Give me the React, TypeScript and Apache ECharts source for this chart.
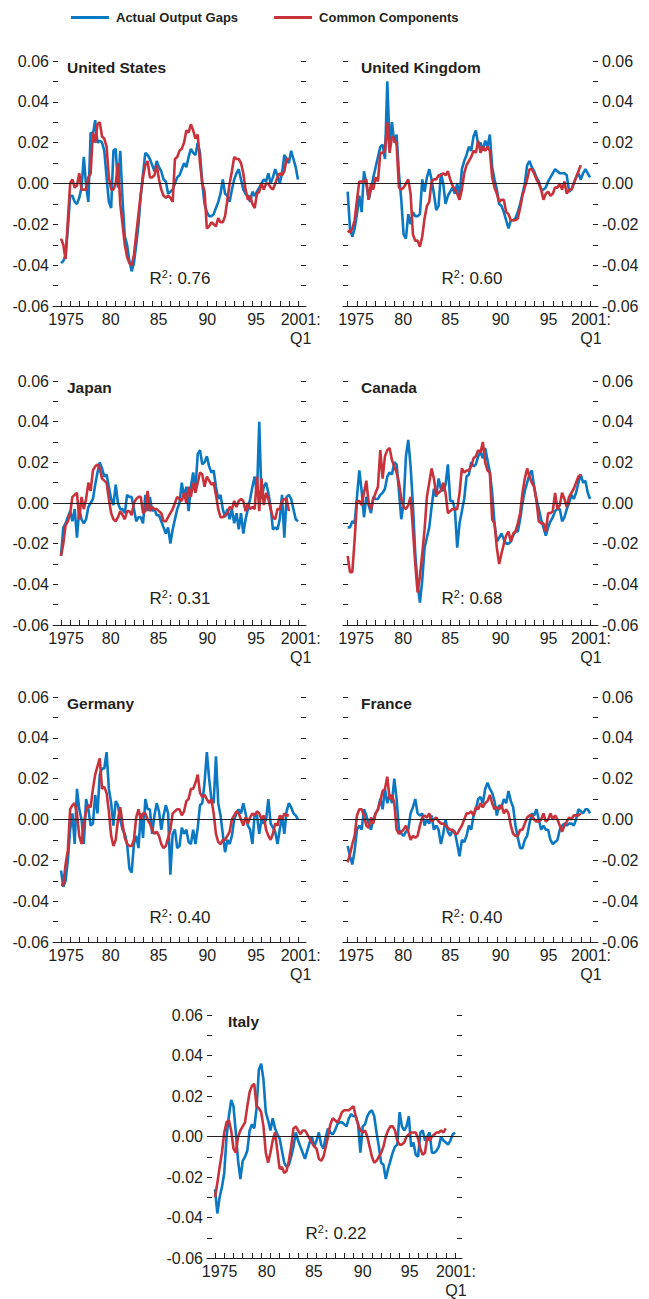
import React, { useEffect, useRef } from "react";
import * as echarts from "echarts";

// ---------- data (quarterly, 1975:Q1 onward) ----------
const FIRST_YEAR = 1975;
const seriesNames = ["Actual Output Gaps", "Common Components"];
const yearTicks = [
  1975, 1976, 1977, 1978, 1979, 1980, 1981, 1982, 1983, 1984, 1985, 1986, 1987, 1988,
  1989, 1990, 1991, 1992, 1993, 1994, 1995, 1996, 1997, 1998, 1999, 2000, 2001,
];
const xLabelTexts = ["1975", "80", "85", "90", "95", "2001:\nQ1"];
const countryNames = ["United States", "United Kingdom", "Japan", "Canada", "Germany", "France", "Italy"];
const r2Texts = ["0.76", "0.60", "0.31", "0.68", "0.40", "0.40", "0.22"];

const usActual = [-0.039,-0.038,-0.035,-0.022,-0.006,-0.006,-0.009,-0.010,-0.007,-0.002,
0.013,-0.001,-0.009,0.025,0.024,0.031,0.020,0.021,0.020,0.016,
0.003,-0.009,-0.012,0.016,0.017,-0.002,0.016,-0.008,-0.026,-0.030,
-0.038,-0.043,-0.039,-0.030,-0.020,-0.006,0.005,0.015,0.014,0.012,
0.009,0.006,0.011,0.008,0.006,0.002,0.001,-0.005,-0.004,-0.003,
0.000,0.003,0.004,0.007,0.010,0.008,0.013,0.017,0.015,0.014,
0.020,0.015,0.000,-0.010,-0.014,-0.016,-0.016,-0.015,-0.012,-0.009,
-0.005,0.002,-0.005,-0.006,-0.009,-0.003,0.002,0.005,0.007,0.002,
-0.003,-0.005,-0.006,-0.009,-0.004,-0.006,-0.004,-0.002,0.000,0.002,
0.001,0.005,0.000,0.003,0.007,0.004,0.000,0.005,0.014,0.012,
0.010,0.016,0.012,0.008,0.002];
const usCommon = [-0.027,-0.030,-0.037,-0.018,0.000,0.002,-0.002,-0.001,0.005,-0.003,
-0.003,-0.003,0.003,0.005,0.025,0.020,0.029,0.030,0.023,0.022,
0.018,0.003,-0.003,-0.003,0.000,0.010,-0.010,-0.020,-0.030,-0.036,
-0.039,-0.040,-0.035,-0.025,-0.015,-0.005,0.003,0.009,0.011,0.003,
0.003,0.004,0.009,0.002,-0.003,-0.006,-0.007,-0.006,-0.007,-0.009,
0.012,0.013,0.016,0.017,0.020,0.026,0.025,0.029,0.026,0.022,
0.024,0.010,0.000,-0.004,-0.022,-0.021,-0.019,-0.020,-0.021,-0.017,
-0.019,-0.019,-0.016,-0.008,0.000,0.006,0.013,0.012,0.012,0.010,
0.005,-0.003,-0.008,-0.006,-0.010,-0.012,-0.005,-0.004,0.000,-0.003,
0.000,0.000,-0.002,-0.003,0.000,0.003,0.005,0.004,0.006,0.012,
0.012];

const ukActual = [-0.004,-0.022,-0.026,-0.022,-0.015,-0.006,-0.014,0.006,0.000,-0.008,
-0.003,0.003,0.008,0.013,0.018,0.019,0.012,0.050,0.019,0.030,
0.020,0.024,0.005,-0.008,-0.025,-0.027,-0.015,-0.020,-0.014,-0.016,
-0.016,-0.015,0.002,-0.004,0.003,0.007,0.002,-0.005,-0.013,-0.011,
0.005,0.000,-0.010,-0.006,-0.004,-0.002,-0.005,0.000,-0.007,0.007,
0.011,0.014,0.018,0.016,0.023,0.026,0.019,0.020,0.016,0.021,
0.018,0.024,0.008,0.002,-0.003,-0.010,-0.011,-0.014,-0.018,-0.022,
-0.018,-0.018,-0.017,-0.014,-0.010,-0.005,0.000,0.009,0.011,0.008,
0.006,0.003,0.001,-0.003,-0.003,-0.002,0.001,0.003,0.005,0.007,
0.006,0.005,0.005,0.005,0.004,-0.004,-0.003,0.000,0.003,0.005,
0.002,0.005,0.007,0.005,0.003];
const ukCommon = [-0.023,-0.024,-0.022,-0.018,-0.008,0.001,0.001,0.001,0.002,-0.008,
0.000,-0.003,0.003,0.001,0.015,0.015,0.016,0.030,0.015,0.023,
0.022,0.019,-0.002,-0.003,-0.002,0.000,0.002,-0.005,-0.025,-0.028,
-0.028,-0.031,-0.026,-0.017,-0.011,-0.009,0.001,0.002,0.002,0.004,
0.004,0.005,0.004,0.006,0.002,-0.001,-0.003,-0.005,-0.008,-0.003,
0.005,0.009,0.011,0.013,0.016,0.015,0.021,0.015,0.018,0.016,
0.018,0.016,0.003,-0.002,-0.005,-0.009,-0.008,-0.008,-0.014,-0.015,
-0.018,-0.018,-0.018,-0.017,-0.012,-0.006,-0.002,0.002,0.007,0.007,
0.005,0.002,0.000,-0.003,-0.008,-0.005,-0.004,-0.006,-0.005,-0.002,
-0.002,0.000,-0.003,0.001,-0.005,-0.003,-0.003,0.000,0.003,0.006,
0.009];

const jpActual = [-0.026,-0.012,-0.010,-0.007,-0.004,-0.009,-0.003,-0.017,-0.003,-0.008,
-0.010,-0.008,-0.002,0.000,0.002,0.009,0.015,0.020,0.017,0.013,
0.014,0.008,0.002,-0.001,0.009,0.000,-0.003,-0.003,-0.005,0.004,
0.003,0.003,-0.003,-0.009,-0.007,-0.007,-0.010,0.004,-0.004,0.003,
-0.004,-0.003,-0.006,-0.006,-0.009,-0.012,-0.015,-0.012,-0.020,-0.013,
-0.008,-0.003,0.000,0.010,0.003,0.008,-0.004,0.008,0.015,0.007,
0.024,0.026,0.019,0.020,0.023,0.018,0.015,0.016,0.008,0.002,
0.004,-0.003,-0.007,-0.003,-0.008,-0.003,-0.010,-0.005,-0.013,-0.005,
-0.015,-0.008,-0.003,0.002,0.008,0.013,0.004,0.040,0.002,0.008,
0.010,0.005,-0.002,-0.013,-0.012,-0.013,-0.008,0.004,-0.017,0.003,
0.004,0.002,-0.003,-0.008,-0.009];
const jpCommon = [-0.026,-0.020,-0.011,-0.009,-0.005,0.003,0.004,0.005,-0.008,0.003,
-0.003,0.002,0.010,0.006,0.016,0.018,0.019,0.017,0.012,0.011,
0.010,0.002,-0.005,-0.008,-0.009,-0.007,-0.004,-0.006,-0.008,-0.004,
-0.004,-0.006,0.000,0.002,0.003,0.003,-0.005,-0.004,0.006,-0.004,
-0.002,-0.003,-0.003,-0.004,-0.005,-0.009,-0.009,-0.007,-0.005,-0.003,
0.000,0.003,0.002,0.001,0.005,0.000,0.008,0.003,0.010,0.005,
0.010,0.015,0.014,0.008,0.013,0.011,0.009,0.010,0.004,-0.003,
-0.007,-0.007,-0.006,-0.005,-0.002,-0.003,0.001,-0.002,0.001,0.002,
0.001,-0.004,0.000,-0.003,-0.002,-0.003,0.013,-0.004,0.012,-0.001,
0.005,0.002,-0.003,-0.007,-0.008,-0.003,-0.003,0.001,0.002,0.002,
-0.004];

const caActual = [-0.012,-0.012,-0.009,-0.010,0.003,0.016,0.006,-0.007,0.003,-0.001,
-0.005,0.003,0.002,0.002,0.004,0.005,0.007,0.013,0.015,0.014,
0.020,0.019,0.006,-0.008,0.000,0.023,0.031,0.018,-0.001,-0.025,
-0.040,-0.049,-0.038,-0.022,-0.017,-0.012,-0.002,0.007,0.003,0.012,
0.007,0.006,0.009,0.019,0.001,0.001,-0.003,-0.022,-0.010,-0.004,
0.002,0.013,0.014,0.020,0.018,0.019,0.023,0.025,0.022,0.027,
0.021,0.015,0.005,-0.010,-0.019,-0.017,-0.015,-0.018,-0.020,-0.020,
-0.019,-0.016,-0.014,-0.014,-0.008,0.000,0.006,0.010,0.014,0.016,
0.008,0.002,-0.003,-0.008,-0.012,-0.016,-0.012,-0.009,-0.007,-0.004,
-0.003,-0.003,-0.009,-0.007,-0.003,0.000,0.004,0.002,0.005,0.010,
0.014,0.010,0.011,0.005,0.002];
const caCommon = [-0.026,-0.034,-0.034,-0.018,0.001,0.001,-0.001,0.005,0.011,0.000,
-0.003,0.002,0.005,0.008,0.026,0.012,0.023,0.026,0.027,0.021,
0.018,0.015,0.010,0.002,-0.002,-0.003,-0.001,0.003,-0.013,-0.030,
-0.044,-0.036,-0.025,-0.013,0.003,0.010,0.017,0.012,0.004,0.005,
0.006,0.010,0.005,-0.005,-0.004,-0.003,-0.003,-0.003,0.005,0.017,
0.015,0.016,0.016,0.018,0.022,0.023,0.026,0.025,0.030,0.020,
0.016,0.015,-0.008,-0.010,-0.022,-0.030,-0.025,-0.020,-0.016,-0.014,
-0.019,-0.015,-0.014,-0.010,-0.005,0.005,0.012,0.017,0.013,0.010,
0.008,0.001,-0.009,-0.010,-0.010,-0.014,-0.005,-0.005,-0.004,0.005,
-0.003,-0.001,0.005,0.002,-0.002,0.003,0.005,0.007,0.010,0.013,
0.014];

const deActual = [-0.025,-0.033,-0.030,-0.020,-0.005,0.003,-0.012,0.015,0.005,0.000,
-0.012,0.010,0.005,-0.003,-0.002,0.012,0.003,0.022,0.025,0.025,
0.033,0.015,0.008,-0.003,0.009,0.007,0.000,-0.005,-0.007,-0.012,
-0.024,-0.026,-0.012,-0.008,-0.014,0.003,-0.009,0.010,0.005,0.005,
-0.007,0.002,0.008,0.004,-0.005,0.002,0.007,0.003,-0.027,-0.007,
-0.005,-0.014,-0.013,-0.004,-0.007,-0.005,-0.011,-0.012,-0.005,-0.012,
-0.004,0.007,0.008,0.018,0.033,0.020,0.010,0.008,0.031,0.008,
0.002,-0.007,-0.016,-0.010,-0.012,-0.008,0.000,0.003,0.005,0.003,
0.008,0.003,-0.003,-0.005,-0.012,0.003,0.002,-0.007,0.000,-0.002,
0.000,0.010,-0.002,-0.004,-0.006,-0.012,-0.005,0.002,-0.007,0.004,
0.008,0.006,0.003,0.002,0.000];
const deCommon = [-0.032,-0.032,-0.022,-0.015,0.005,0.007,0.008,0.003,-0.008,-0.012,
-0.002,0.004,0.007,0.006,0.015,0.022,0.026,0.030,0.015,0.016,
0.013,0.004,-0.008,-0.013,-0.010,0.000,0.006,-0.002,-0.009,-0.012,
-0.013,-0.013,-0.010,0.001,0.005,0.000,0.003,0.003,0.000,-0.002,
-0.005,-0.007,-0.006,-0.008,-0.012,-0.014,-0.013,-0.009,-0.005,0.003,
0.004,0.005,0.005,0.002,0.004,0.009,0.010,0.015,0.015,0.018,
0.022,0.013,0.011,0.012,0.010,0.008,0.010,0.003,-0.007,-0.011,
-0.012,-0.010,-0.010,-0.008,-0.006,0.000,0.002,0.004,0.003,0.000,
-0.003,0.001,-0.002,0.001,0.003,0.002,0.004,0.003,0.000,0.002,
-0.005,-0.008,-0.010,-0.007,-0.002,-0.003,0.002,0.000,0.003,0.002,
0.002];

const frActual = [-0.013,-0.018,-0.022,-0.015,-0.005,-0.003,-0.005,0.005,0.002,-0.002,
-0.005,0.000,0.003,0.005,0.010,0.005,0.015,0.008,0.012,0.008,
0.020,0.010,-0.005,-0.007,-0.008,-0.006,-0.005,0.003,0.006,0.010,
0.003,0.002,0.003,-0.003,0.000,-0.002,0.002,-0.005,-0.003,-0.005,
-0.012,-0.007,0.000,-0.006,-0.008,-0.005,-0.006,-0.012,-0.018,-0.010,
-0.011,-0.008,-0.003,-0.005,0.002,0.005,0.010,0.011,0.008,0.015,
0.018,0.015,0.013,0.009,0.002,0.007,0.006,0.010,0.008,0.014,
0.009,0.006,-0.003,-0.009,-0.014,-0.014,-0.010,-0.008,-0.002,0.003,
0.002,0.005,0.000,-0.005,-0.003,-0.005,-0.005,-0.010,-0.012,-0.011,
-0.010,-0.005,-0.003,-0.002,-0.003,-0.002,-0.002,-0.003,0.000,0.005,
0.004,0.003,0.005,0.005,0.003];
const frCommon = [-0.021,-0.017,-0.012,-0.008,0.002,0.005,0.005,0.002,-0.003,-0.004,
0.001,-0.002,0.003,0.005,0.009,0.014,0.015,0.021,0.010,0.012,
0.008,-0.005,-0.007,-0.006,-0.005,-0.003,-0.006,-0.010,-0.008,-0.009,
-0.008,-0.003,0.001,0.002,0.001,0.003,-0.001,0.000,0.001,-0.001,
-0.002,-0.002,-0.003,-0.004,-0.005,-0.005,-0.007,-0.007,-0.005,-0.003,
0.000,0.003,0.003,0.004,0.002,0.006,0.005,0.008,0.006,0.008,
0.009,0.012,0.008,0.005,0.006,0.005,0.007,0.003,0.005,0.003,
-0.003,-0.007,-0.008,-0.008,-0.005,-0.005,-0.002,0.001,0.002,0.002,
0.000,-0.001,-0.001,0.000,0.003,-0.001,0.000,0.003,0.000,0.002,
0.000,-0.003,-0.006,-0.003,-0.001,0.001,0.000,0.002,0.002,0.002,
0.003];

const itActual = [-0.026,-0.038,-0.030,-0.025,-0.018,0.000,0.010,0.018,0.015,0.002,
-0.012,-0.021,-0.012,-0.010,-0.007,0.003,0.006,0.004,0.014,0.033,
0.036,0.028,0.012,0.008,0.003,0.009,0.004,0.001,-0.001,-0.007,
-0.013,-0.015,-0.014,-0.010,-0.005,0.002,-0.002,-0.005,-0.008,-0.011,
-0.007,-0.003,0.000,-0.005,-0.002,0.002,-0.004,-0.006,0.000,0.004,
0.002,0.001,0.003,0.006,0.007,0.007,0.006,0.005,0.009,0.011,
0.010,0.010,0.006,-0.008,0.005,0.006,0.010,0.012,0.013,0.010,
0.002,-0.005,-0.013,-0.014,-0.021,-0.016,-0.012,-0.008,-0.005,-0.004,
0.012,0.005,0.003,0.005,0.010,-0.005,-0.003,-0.009,-0.010,0.002,
0.003,-0.002,0.000,0.002,-0.008,-0.008,-0.007,-0.005,0.000,-0.002,
-0.003,-0.004,-0.002,0.001,0.002];
const itCommon = [-0.030,-0.023,-0.015,-0.008,0.002,0.007,0.008,0.003,-0.006,-0.008,
0.000,0.003,0.005,0.007,0.015,0.022,0.025,0.026,0.015,0.014,
0.012,0.005,-0.008,-0.013,-0.008,-0.002,0.002,-0.007,-0.016,-0.015,
-0.018,-0.017,-0.012,-0.005,0.004,0.005,0.003,0.001,0.003,0.003,
0.001,-0.001,-0.003,-0.005,-0.006,-0.011,-0.012,-0.010,-0.005,0.000,
0.006,0.009,0.008,0.007,0.009,0.012,0.013,0.013,0.013,0.014,
0.015,0.010,0.006,0.003,0.002,0.003,0.000,-0.005,-0.010,-0.013,
-0.012,-0.010,-0.008,-0.005,0.000,0.003,0.005,0.005,0.003,-0.002,
-0.004,-0.004,-0.003,0.000,0.001,0.002,0.002,0.002,-0.001,-0.006,
-0.009,-0.008,0.000,-0.002,0.000,0.001,0.002,0.002,0.003,0.002,
0.004];

const actualSeries = [usActual, ukActual, jpActual, caActual, deActual, frActual, itActual];
const commonSeries = [usCommon, ukCommon, jpCommon, caCommon, deCommon, frCommon, itCommon];

// ---------- layout ----------
const FONT = "'Liberation Sans', Arial, Helvetica, sans-serif";
const INK = "#231f20";
const BLUE = "#0a78c2";
const RED = "#c8323b";

type Col = {
  left: number; width: number; min: number; max: number;
  labelAt: number[]; side: "left" | "right"; titleX: number; r2X: number;
};
const columns: Record<string, Col> = {
  L: { left: 53, width: 253, min: 1974.12, max: 2001.88, labelAt: [1975.55, 1980.45, 1985.7, 1991.05, 1996.4, 2001.3], side: "left", titleX: 67, r2X: 180 },
  R: { left: 343, width: 255, min: 1974.5, max: 2001.85, labelAt: [1975.9, 1980.95, 1986.0, 1991.4, 1996.55, 2001.1], side: "right", titleX: 361, r2X: 472 },
  C: { left: 207, width: 255, min: 1974.13, max: 2001.76, labelAt: [1975.5, 1980.6, 1985.7, 1991.0, 1996.1, 2001.1], side: "left", titleX: 228, r2X: 336 },
};
const rows = [
  { top: 61, height: 245, titleY: 67, r2Y: 278 },
  { top: 381, height: 244, titleY: 387, r2Y: 598 },
  { top: 697, height: 245, titleY: 703, r2Y: 917 },
  { top: 1015, height: 243, titleY: 1021, r2Y: 1233 },
];
const panelPlacement = [
  { col: "L", row: 0 }, { col: "R", row: 0 },
  { col: "L", row: 1 }, { col: "R", row: 1 },
  { col: "L", row: 2 }, { col: "R", row: 2 },
  { col: "C", row: 3 },
];

const yLabel = (v: number) => {
  const k = Math.round(v * 100);
  return k % 2 === 0 ? (k / 100).toFixed(2) : "";
};

function buildOption() {
  const grid: any[] = [];
  const xAxis: any[] = [];
  const yAxis: any[] = [];
  const series: any[] = [];
  const title: any[] = [];
  const graphic: any[] = [];

  panelPlacement.forEach((pl, i) => {
    const col = columns[pl.col];
    const row = rows[pl.row];
    grid.push({ left: col.left, top: row.top, width: col.width, height: row.height, containLabel: false, outerBoundsMode: "none" });

    xAxis.push({
      type: "value", gridIndex: i, min: col.min, max: col.max,
      axisLine: { show: true, onZero: false, lineStyle: { color: INK, width: 1 } },
      axisTick: { show: true, inside: true, length: 5, customValues: yearTicks, lineStyle: { color: INK, width: 1 } },
      axisLabel: {
        customValues: col.labelAt,
        formatter: (v: number) => {
          const j = col.labelAt.findIndex((a) => Math.abs(a - v) < 1e-6);
          return j >= 0 ? xLabelTexts[j] : "";
        },
        fontFamily: FONT, fontSize: 16, color: INK, lineHeight: 19, margin: 4, align: "center",
      },
      splitLine: { show: false },
    });

    (["left", "right"] as const).forEach((pos) => {
      const showLab = pos === col.side;
      yAxis.push({
        type: "value", gridIndex: i, position: pos, min: -0.06, max: 0.06, interval: 0.01,
        axisLine: { show: false },
        axisTick: { show: true, inside: true, length: 5, lineStyle: { color: INK, width: 1 } },
        axisLabel: showLab
          ? { show: true, formatter: yLabel, fontFamily: FONT, fontSize: 16, color: INK, margin: 4 }
          : { show: false },
        splitLine: { show: false },
      });
    });

    const toXY = (arr: number[]) => arr.map((v, q) => [FIRST_YEAR + q / 4, v]);

    series.push({
      type: "line", name: seriesNames[0], xAxisIndex: i, yAxisIndex: 2 * i,
      data: toXY(actualSeries[i]), showSymbol: false, symbol: "none",
      lineStyle: { color: BLUE, width: 2.6 }, itemStyle: { color: BLUE }, z: 3,
      markLine: {
        silent: true, symbol: ["none", "none"], label: { show: false },
        lineStyle: { color: INK, width: 1, type: "solid" },
        data: [{ yAxis: 0 }],
      },
    });
    series.push({
      type: "line", name: seriesNames[1], xAxisIndex: i, yAxisIndex: 2 * i,
      data: toXY(commonSeries[i]), showSymbol: false, symbol: "none",
      lineStyle: { color: RED, width: 2.6 }, itemStyle: { color: RED }, z: 4,
    });

    title.push({
      text: countryNames[i], left: col.titleX, top: row.titleY - 10, padding: 0,
      textStyle: { fontFamily: FONT, fontWeight: "bold", fontSize: 15.5, color: INK, lineHeight: 20 },
    });

    graphic.push({
      type: "text", x: col.r2X, y: row.r2Y,
      style: {
        text: `{a|R}{s|2}{a|: ${r2Texts[i]}}`,
        rich: {
          a: { fontFamily: FONT, fontSize: 17, fill: INK, lineHeight: 20 },
          s: { fontFamily: FONT, fontSize: 11, fill: INK, lineHeight: 10, verticalAlign: "top" },
        },
        align: "center", verticalAlign: "middle", textAlign: "center", textVerticalAlign: "middle",
      },
    });
  });

  return {
    animation: false,
    backgroundColor: "#ffffff",
    legend: {
      show: true, left: 71, top: 11, padding: 0, itemWidth: 38, itemHeight: 3, itemGap: 36,
      icon: "rect", selectedMode: false, data: seriesNames,
      textStyle: { fontFamily: FONT, fontWeight: "bold", fontSize: 13, color: INK, padding: [0, 0, 0, 2] },
    },
    title, grid, xAxis, yAxis, series, graphic,
  };
}

export default function App() {
  const ref = useRef<HTMLDivElement>(null);
  useEffect(() => {
    if (!ref.current) return;
    const chart = echarts.init(ref.current, undefined, { renderer: "svg" });
    chart.setOption(buildOption() as any);
    return () => chart.dispose();
  }, []);
  return (
    <div
      ref={ref}
      style={{ position: "absolute", left: 0, top: 0, width: 649, height: 1299, background: "#fff" }}
    />
  );
}
